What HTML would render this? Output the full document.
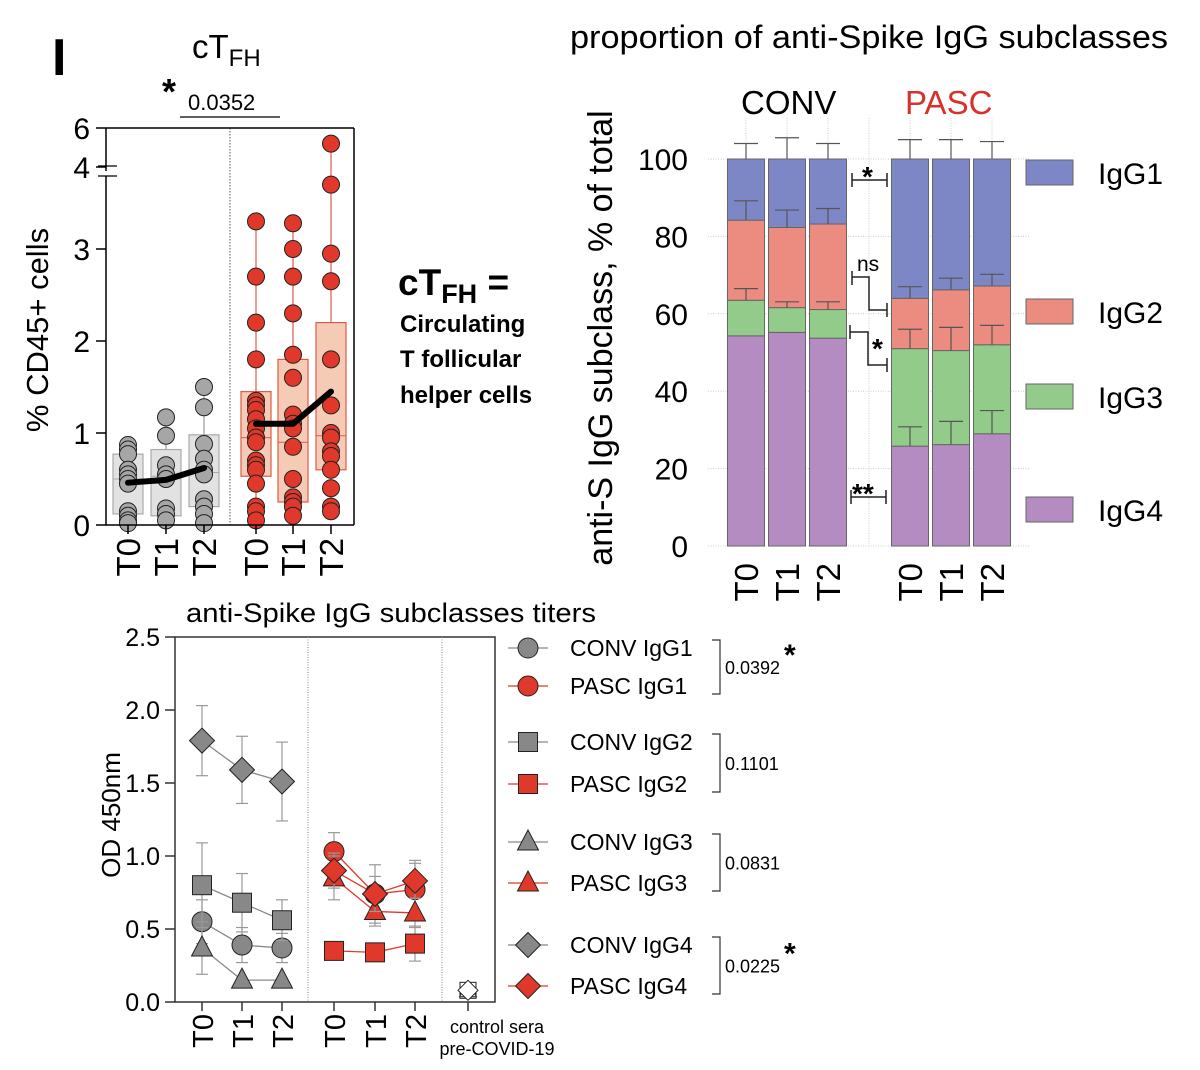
<!DOCTYPE html>
<html><head><meta charset="utf-8"><style>
body{margin:0;background:#fff}
svg{display:block;font-family:"Liberation Sans",Arial,sans-serif}
</style></head><body>
<svg id="fig" width="1200" height="1070" viewBox="0 0 1200 1070" xmlns="http://www.w3.org/2000/svg">
<rect width="1200" height="1070" fill="#fff"/>
<g id="p1"></g>
<g id="p2"></g>
<g id="p3"></g>
<g font-weight="bold" fill="#000">
<text x="398" y="295" font-size="37">cT<tspan font-size="27" dy="8">FH</tspan><tspan dy="-8"> =</tspan></text>
<text x="400" y="332" font-size="24">Circulating</text>
<text x="400" y="367" font-size="24">T follicular</text>
<text x="400" y="403" font-size="24">helper cells</text>
</g>
</svg>
<script>
// ---------- Panel 1 data ----------
const p1Categories = ["T0","T1","T2","T0","T1","T2"];
const p1Points = [
 [0.87,0.82,0.77,0.6,0.55,0.5,0.45,0.15,0.1,0.05,0.02],
 [1.17,0.97,0.65,0.55,0.5,0.18,0.12,0.05],
 [1.5,1.28,0.88,0.72,0.6,0.55,0.28,0.2,0.12,0.02],
 [3.3,2.7,2.2,1.8,1.35,1.3,1.25,1.15,1.05,0.95,0.9,0.7,0.65,0.6,0.45,0.2,0.15,0.05],
 [3.28,3.0,2.7,2.3,1.85,1.6,1.2,1.1,1.05,0.85,0.5,0.3,0.25,0.2,0.1],
 [5.2,3.7,2.95,2.65,1.8,1.3,1.0,0.95,0.8,0.75,0.6,0.4,0.2,0.15]
];
const p1BoxLow = [0.12,0.1,0.2,0.53,0.25,0.6];
const p1BoxHigh = [0.77,0.82,0.98,1.45,1.8,2.2];
const p1Median = [0.5,0.53,0.57,0.95,0.9,0.97];
const p1Mean = [0.46,0.49,0.62,1.1,1.1,1.45];
const p1Ticks = ["0","1","2","3","4","6"];
const p1TickVals = [0,1,2,3,4,6];
// ---------- Panel 2 data ----------
const p2Categories = ["T0","T1","T2","T0","T1","T2"];
const p2Subclasses = ["IgG1","IgG2","IgG3","IgG4"];
const p2IgG4 = [54.3,55.2,53.7,25.8,26.2,29.0];
const p2IgG3 = [9.2,6.4,7.4,25.2,24.3,23.0];
const p2IgG2 = [20.7,20.7,22.1,13.0,15.7,15.2];
const p2IgG1 = [15.8,17.7,16.8,36.0,33.8,32.8];
const p2ErrIgG1 = [4,5.5,4,5,5,4.5];
const p2ErrIgG2 = [5,4.5,4,3,3,3];
const p2ErrIgG3 = [3,1.5,2,5,6,5];
const p2ErrIgG4 = [0,0,0,5,6,6];
const p2Ticks = [0,20,40,60,80,100];
// ---------- Panel 3 data ----------
const p3Categories = ["T0","T1","T2","T0","T1","T2"];
const p3ConvIgG1 = [0.55,0.39,0.37];
const p3ConvIgG2 = [0.80,0.68,0.56];
const p3ConvIgG3 = [0.37,0.15,0.15];
const p3ConvIgG4 = [1.79,1.59,1.51];
const p3PascIgG1 = [1.03,0.74,0.77];
const p3PascIgG2 = [0.35,0.34,0.40];
const p3PascIgG3 = [0.85,0.62,0.61];
const p3PascIgG4 = [0.90,0.74,0.83];
const p3ConvErr = [[0.15,0.12,0.1],[0.29,0.2,0.14],[0.18,0,0],[0.24,0.23,0.27]];
const p3PascErr = [[0.13,0.2,0.2],[0.06,0.05,0.12],[0.15,0.1,0.1],[0.12,0.12,0.12]];
const p3Control = 0.08;
const p3Ticks = [0,0.5,1.0,1.5,2.0,2.5];
const p3Pvals = ["0.0392","0.1101","0.0831","0.0225"];

const NS="http://www.w3.org/2000/svg";
function mk(parent,tag,attrs,text){const e=document.createElementNS(NS,tag);for(const k in attrs)e.setAttribute(k,attrs[k]);if(text!==undefined)e.textContent=text;parent.appendChild(e);return e;}

// ===== Panel 1 =====
const p1=document.getElementById('p1');
const y1=v=> v<=3.9 ? 525-v*92 : 167-(v-4)*19.5;
const x1=i=>[128,166,204,256,293,331][i];
mk(p1,'text',{x:52,y:75,'font-size':52,'font-weight':'bold'},'I');
mk(p1,'text',{x:192,y:58,'font-size':33},'cT').appendChild(document.createElementNS(NS,'tspan'));
{const t=p1.lastChild.lastChild;t.setAttribute('font-size','24');t.setAttribute('dy','8');t.textContent='FH';}
mk(p1,'text',{x:162,y:104,'font-size':36,'font-weight':'bold'},'*');
mk(p1,'text',{x:188,y:110,'font-size':22},'0.0352');
mk(p1,'line',{x1:180,y1:117,x2:280,y2:117,stroke:'#000','stroke-width':1.2});
mk(p1,'text',{x:0,y:0,'font-size':31,'text-anchor':'middle',transform:'translate(48,330) rotate(-90)'},'% CD45+ cells');
mk(p1,'line',{x1:230,y1:128,x2:230,y2:525,stroke:'#555','stroke-width':1,'stroke-dasharray':'1.5,1.5'});
for(let i=0;i<6;i++){
 const red=i>=3;const cx=x1(i);const pts=p1Points[i];
 const lo=Math.min(...pts),hi=Math.max(...pts);
 const g=mk(p1,'g',{});
 
 
 mk(g,'line',{x1:cx,y1:y1(hi),x2:cx,y2:y1(lo),stroke:red?'#e05a48':'#999','stroke-width':1.2});
 mk(g,'rect',{x:cx-15,y:y1(p1BoxHigh[i]),width:30,height:y1(p1BoxLow[i])-y1(p1BoxHigh[i]),fill:red?'#f6cbb6':'#e2e2e2',stroke:red?'#e05a48':'#aaa','stroke-width':1.2});
 mk(g,'line',{x1:cx-15,y1:y1(p1Median[i]),x2:cx+15,y2:y1(p1Median[i]),stroke:red?'#e05a48':'#aaa','stroke-width':1});
 pts.forEach(v=>{const c=mk(g,'circle',{cx:cx,cy:y1(v),r:8.5,fill:red?'#e0392b':'#a6a6a6',stroke:'#222','stroke-width':1});
  
  });
}
[[0,1,2],[3,4,5]].forEach(gr=>{
 const l=mk(p1,'polyline',{points:gr.map(i=>x1(i)+','+y1(p1Mean[i])).join(' '),fill:'none',stroke:'#000','stroke-width':6,'stroke-linejoin':'round','stroke-linecap':'round'});
 
 
});
mk(p1,'line',{x1:106,y1:128,x2:106,y2:171,stroke:'#000','stroke-width':1.5});
mk(p1,'line',{x1:106,y1:176,x2:106,y2:525,stroke:'#000','stroke-width':1.5});
mk(p1,'line',{x1:98,y1:166,x2:117,y2:166,stroke:'#000','stroke-width':1.2});
mk(p1,'line',{x1:98,y1:176,x2:117,y2:176,stroke:'#000','stroke-width':1.2});
mk(p1,'line',{x1:354,y1:128,x2:354,y2:525,stroke:'#000','stroke-width':1.5});
mk(p1,'line',{x1:106,y1:128,x2:354,y2:128,stroke:'#000','stroke-width':1.5});
mk(p1,'line',{x1:106,y1:525,x2:354,y2:525,stroke:'#000','stroke-width':1.5});
p1TickVals.forEach((v,k)=>{const yy=v===6?128:y1(v);
 mk(p1,'line',{x1:96,y1:yy,x2:106,y2:yy,stroke:'#000','stroke-width':1.5});
 mk(p1,'text',{x:90,y:yy+11,'font-size':30,'text-anchor':'end'},p1Ticks[k]);});
for(let i=0;i<6;i++){mk(p1,'line',{x1:x1(i),y1:525,x2:x1(i),y2:534,stroke:'#000','stroke-width':1.5});
 mk(p1,'text',{x:0,y:0,'font-size':33,'text-anchor':'end',transform:`translate(${x1(i)+12},538) rotate(-90)`},p1Categories[i]);}

// ===== Panel 2 =====
const p2=document.getElementById('p2');
const y2=v=>546-v*3.87;
const x2=i=>[746,787,828,910,951,992][i];
const colors={IgG1:'#7d87c6',IgG2:'#ec8b80',IgG3:'#93cb8b',IgG4:'#b58cc2'};
mk(p2,'text',{x:570,y:48,'font-size':32,textLength:598,lengthAdjust:'spacingAndGlyphs'},'proportion of anti-Spike IgG subclasses');
mk(p2,'text',{x:741,y:114,'font-size':33},'CONV');
mk(p2,'text',{x:905,y:114,'font-size':33,fill:'#d7312a'},'PASC');
mk(p2,'text',{x:0,y:0,'font-size':34,'text-anchor':'middle',transform:'translate(612,338) rotate(-90)'},'anti-S IgG subclass, % of total');
p2Ticks.forEach(v=>{mk(p2,'line',{x1:708,y1:y2(v),x2:1030,y2:y2(v),stroke:'#ccc','stroke-width':1,'stroke-dasharray':'1,1.5'});
 mk(p2,'text',{x:688,y:y2(v)+11,'font-size':30,'text-anchor':'end'},String(v));});
[...[0,1,2,3,4,5].map(x2),869].forEach(x=>mk(p2,'line',{x1:x,y1:118,x2:x,y2:546,stroke:'#ccc','stroke-width':1,'stroke-dasharray':'1,1.5'}));
const segs=[['IgG4',p2IgG4,p2ErrIgG4],['IgG3',p2IgG3,p2ErrIgG3],['IgG2',p2IgG2,p2ErrIgG2],['IgG1',p2IgG1,p2ErrIgG1]];
for(let i=0;i<6;i++){let base=0;const cx=x2(i);
 segs.forEach(([n,arr,err])=>{const top=base+arr[i];
  const r=mk(p2,'rect',{x:cx-18.5,y:y2(top),width:37,height:y2(base)-y2(top),fill:colors[n],stroke:'#666','stroke-width':1});
  
  
  base=top;});
 base=0;
 segs.forEach(([n,arr,err])=>{const top=base+arr[i];const ee=err[i];
  if(ee>0){mk(p2,'line',{x1:cx,y1:y2(top),x2:cx,y2:y2(top+ee),stroke:'#555','stroke-width':1.2});
   mk(p2,'line',{x1:cx-12,y1:y2(top+ee),x2:cx+12,y2:y2(top+ee),stroke:'#555','stroke-width':1.2});}
  base=top;});
}
function sb(d){mk(p2,'path',{d:d,fill:'none',stroke:'#222','stroke-width':1.5});}
sb('M852,173 v14 M852,180 H887 M887,173 v14');mk(p2,'text',{x:862,y:186,'font-size':28,'font-weight':'bold'},'*');
sb('M852,271 v14 M852,277 H869 V310 H887 M887,303 v14');mk(p2,'text',{x:857,y:271,'font-size':21},'ns');
sb('M850,325 v14 M850,332 H868 V365 H887 M887,358 v14');mk(p2,'text',{x:872,y:358,'font-size':28,'font-weight':'bold'},'*');
sb('M851,490 v14 M851,497 H886 M886,490 v14');mk(p2,'text',{x:852,y:503,'font-size':28,'font-weight':'bold'},'**');
[['IgG1',160],['IgG2',299],['IgG3',384],['IgG4',497]].forEach(([n,y])=>{
 const g=mk(p2,'g',{});
 
 
 mk(g,'rect',{x:1026,y:y,width:47,height:25,fill:colors[n],stroke:'#666','stroke-width':1});
 mk(g,'text',{x:1098,y:y+24,'font-size':30},n);});
for(let i=0;i<6;i++) mk(p2,'text',{x:0,y:0,'font-size':33,'text-anchor':'end',transform:`translate(${x2(i)+12},563) rotate(-90)`},p2Categories[i]);

// ===== Panel 3 =====
const p3=document.getElementById('p3');
const y3=v=>1002-v*146;
const x3=i=>[202,242,282,334,375,415][i];
mk(p3,'text',{x:391,y:622,'font-size':27,'text-anchor':'middle',textLength:410,lengthAdjust:'spacingAndGlyphs'},'anti-Spike IgG subclasses titers');
mk(p3,'text',{x:0,y:0,'font-size':26,'text-anchor':'middle',transform:'translate(120,815) rotate(-90)'},'OD 450nm');
mk(p3,'rect',{x:175,y:637,width:320,height:365,fill:'none',stroke:'#333','stroke-width':1.5});
[308,442].forEach(x=>mk(p3,'line',{x1:x,y1:637,x2:x,y2:1002,stroke:'#888','stroke-width':1,'stroke-dasharray':'1,1.5'}));
p3Ticks.forEach(v=>{mk(p3,'line',{x1:165,y1:y3(v),x2:175,y2:y3(v),stroke:'#333','stroke-width':1.5});
 mk(p3,'text',{x:160,y:y3(v)+9,'font-size':25,'text-anchor':'end'},v.toFixed(1));});
[0,1,2,3,4,5].forEach(i=>{mk(p3,'line',{x1:x3(i),y1:1002,x2:x3(i),y2:1011,stroke:'#333','stroke-width':1.5});
 mk(p3,'text',{x:0,y:0,'font-size':29,'text-anchor':'end',transform:`translate(${x3(i)+11},1014) rotate(-90)`},p3Categories[i]);});
mk(p3,'line',{x1:468,y1:1002,x2:468,y2:1011,stroke:'#333','stroke-width':1.5});
mk(p3,'text',{x:497,y:1033,'font-size':18,'text-anchor':'middle'},'control sera');
mk(p3,'text',{x:497,y:1055,'font-size':18,'text-anchor':'middle'},'pre-COVID-19');
function marker(g,shape,x,y,fill,s){
 if(shape==='circle') return mk(g,'circle',{cx:x,cy:y,r:s,fill:fill,stroke:'#222','stroke-width':1});
 if(shape==='square') return mk(g,'rect',{x:x-s,y:y-s,width:2*s,height:2*s,fill:fill,stroke:'#222','stroke-width':1});
 if(shape==='triangle') return mk(g,'polygon',{points:`${x},${y-s*1.2} ${x+s*1.05},${y+s*0.8} ${x-s*1.05},${y+s*0.8}`,fill:fill,stroke:'#222','stroke-width':1});
 return mk(g,'polygon',{points:`${x},${y-s*1.25} ${x+s*1.25},${y} ${x},${y+s*1.25} ${x-s*1.25},${y}`,fill:fill,stroke:'#222','stroke-width':1});
}
const shapes=['circle','square','triangle','diamond'];
const convS=[p3ConvIgG1,p3ConvIgG2,p3ConvIgG3,p3ConvIgG4];
const pascS=[p3PascIgG1,p3PascIgG2,p3PascIgG3,p3PascIgG4];
[[convS,p3ConvErr,0,'#888','#888'],[pascS,p3PascErr,3,'#e0392b','#e0392b']].forEach(([ser,err,off,fill,lc])=>{
 ser.forEach((vals,k)=>{
  const g=mk(p3,'g',{});
  
  
  vals.forEach((v,i)=>{const e=err[k][i];if(e>0){const x=x3(i+off);
   mk(g,'line',{x1:x,y1:y3(v-e),x2:x,y2:y3(v+e),stroke:'#999','stroke-width':1.2});
   mk(g,'line',{x1:x-6,y1:y3(v+e),x2:x+6,y2:y3(v+e),stroke:'#999','stroke-width':1.2});
   mk(g,'line',{x1:x-6,y1:y3(v-e),x2:x+6,y2:y3(v-e),stroke:'#999','stroke-width':1.2});}});
  mk(g,'polyline',{points:vals.map((v,i)=>x3(i+off)+','+y3(v)).join(' '),fill:'none',stroke:lc,'stroke-width':1.3});
  vals.forEach((v,i)=>marker(g,shapes[k],x3(i+off),y3(v),fill,shapes[k]==='square'?9.5:10));
 });
});
shapes.forEach(s=>marker(p3,s,468,y3(p3Control),'#fff',8));
const legRows=[648,686,742,784,842,883,945,986];
const legLabels=['CONV IgG1','PASC  IgG1','CONV IgG2','PASC  IgG2','CONV IgG3','PASC  IgG3','CONV IgG4','PASC  IgG4'];
legRows.forEach((y,j)=>{const k=Math.floor(j/2),red=j%2===1;
 const g=mk(p3,'g',{});
 
 
 mk(g,'line',{x1:508,y1:y,x2:548,y2:y,stroke:red?'#e0392b':'#888','stroke-width':1.3});
 marker(g,shapes[k],528,y,red?'#e0392b':'#888',shapes[k]==='square'?9.5:10);
 mk(g,'text',{x:570,y:y+8,'font-size':23,'xml:space':'preserve'},legLabels[j]);
});
[0,1,2,3].forEach(k=>{const a=legRows[2*k]-8,b=legRows[2*k+1]+8;
 mk(p3,'path',{d:`M712,${a} H720 V${b} H712`,fill:'none',stroke:'#333','stroke-width':1.2});
 mk(p3,'text',{x:725,y:(a+b)/2+7,'font-size':18},p3Pvals[k]);
 if(k===0||k===3) mk(p3,'text',{x:784,y:(a+b)/2-2,'font-size':30,'font-weight':'bold'},'*');
});
</script>
</body></html>
